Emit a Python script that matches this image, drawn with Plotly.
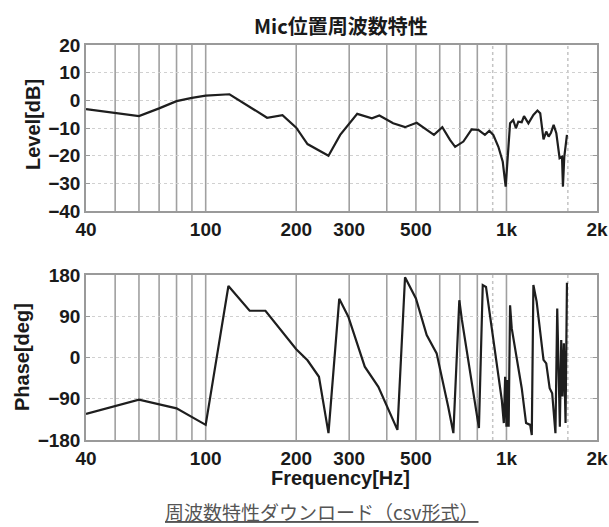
import plotly.graph_objects as go

# ---- data ----
level_freq = [40, 60, 70, 80, 90, 100, 120, 160, 180, 200, 218, 256, 280, 295, 319, 357, 378,
              420, 460, 503, 543, 574, 612, 649, 675, 719, 766, 806, 848, 877, 904, 940, 972,
              994, 1010, 1028, 1053, 1075, 1095, 1124, 1144, 1183, 1229, 1268, 1295, 1328,
              1356, 1381, 1406, 1435, 1465, 1502, 1530, 1541, 1557, 1589]
level_db = [-3.2, -5.7, -2.9, -0.3, 0.9, 1.7, 2.2, -6.3, -5.4, -9.9, -15.8, -20.0, -12.5, -9.5,
            -4.9, -6.5, -5.5, -8.3, -9.7, -8.1, -10.7, -12.5, -9.7, -14.3, -16.8, -14.9, -10.5,
            -10.7, -12.5, -11.0, -12.5, -16.8, -22.2, -31.2, -20.4, -8.3, -7.1, -10.1, -7.7,
            -7.9, -5.7, -8.3, -5.3, -3.7, -4.7, -14.1, -11.3, -13.1, -11.7, -8.9, -11.9, -20.9,
            -20.4, -31.2, -20.4, -12.5]

phase_freq = [40, 60, 80, 100, 119, 140, 158, 200, 218, 238, 256, 278, 298, 338, 375, 405,
              434, 460, 500, 543, 586, 640, 666, 697, 711, 810, 834, 855, 965, 980, 990, 1000,
              1005, 1017, 1028, 1041, 1124, 1162, 1199, 1214, 1229, 1260, 1328, 1356, 1392,
              1419, 1455, 1475, 1494, 1505, 1521, 1536, 1552, 1572, 1589]
phase_deg = [-123, -92, -111, -147, 156, 102, 102, 18, -6, -42, -165, 128, 89, -20, -64, -114,
             -158, 175, 129, 49, 9, -107, -165, 125, 82, -154, 158, 154, -93, -143, -42, -151,
             -49, -151, 114, 64, -67, -143, -147, -169, 158, 122, -5, -13, -67, -78, -165, 107,
             -27, -151, 38, -85, 31, -143, 163]

solid_grid_freqs = [50, 60, 70, 80, 90, 100, 200, 300, 400, 500, 600, 700, 800, 1000]
dotted_grid_freqs = [900, 1600]

x_tickvals = [40, 100, 200, 300, 500, 1000, 2000]
x_ticktext = ["40", "100", "200", "300", "500", "1k", "2k"]
level_ticks = [20, 10, 0, -10, -20, -30, -40]
phase_ticks = [180, 90, 0, -90, -180]

title_text = "Mic位置周波数特性"
level_label = "Level[dB]"
phase_label = "Phase[deg]"
freq_label = "Frequency[Hz]"
link_text = "周波数特性ダウンロード（csv形式）"

# ---- figure ----
W, H = 609, 527


def px(x):
    return x / W


def py(y):
    return 1 - y / H


fig = go.Figure()
fig.add_trace(go.Scatter(x=level_freq, y=level_db, mode="lines",
                         line=dict(color="#1e1e1e", width=2.2), xaxis="x", yaxis="y",
                         showlegend=False, hoverinfo="skip"))
fig.add_trace(go.Scatter(x=phase_freq, y=phase_deg, mode="lines",
                         line=dict(color="#1e1e1e", width=2.2), xaxis="x2", yaxis="y2",
                         showlegend=False, hoverinfo="skip"))

xdom = [px(86), px(597)]
top_dom = [py(211), py(45)]
bot_dom = [py(440), py(275)]

tickfont = dict(family="Liberation Sans, Arial, sans-serif", size=19, color="#1a1a1a", weight="bold")
xcommon = dict(type="log", range=[1.60206, 3.30103], domain=xdom, tickvals=x_tickvals,
               ticktext=x_ticktext, showgrid=False, zeroline=False, showline=True,
               linecolor="#9a9a9a", linewidth=1.5, mirror=True, ticks="", tickfont=tickfont,
               ticklabelstandoff=0, automargin=False)
ycommon = dict(showgrid=True, gridcolor="#d0d0d0", griddash="dot", gridwidth=1, zeroline=False,
               showline=True, linecolor="#9a9a9a", linewidth=1.5, mirror="ticks", ticks="inside",
               ticklen=4, tickcolor="#9a9a9a", tickfont=tickfont, automargin=False)

fig.update_layout(
    width=W, height=H, margin=dict(l=0, r=0, t=0, b=0, autoexpand=False),
    paper_bgcolor="white", plot_bgcolor="white",
    xaxis=dict(anchor="y", **xcommon),
    yaxis=dict(domain=top_dom, anchor="x", range=[-40, 20], tickvals=level_ticks, **ycommon),
    xaxis2=dict(anchor="y2", **xcommon),
    yaxis2=dict(domain=bot_dom, anchor="x2", range=[-180, 180], tickvals=phase_ticks, **ycommon),
)

shapes = []
for xa, ya in (("x", "y"), ("x2", "y2")):
    for f in solid_grid_freqs:
        shapes.append(dict(type="line", xref=xa, yref=ya + " domain", x0=f, x1=f, y0=0, y1=1,
                           line=dict(color="#a0a0a0", width=1.6), layer="below"))
    for f in dotted_grid_freqs:
        shapes.append(dict(type="line", xref=xa, yref=ya + " domain", x0=f, x1=f, y0=0, y1=1,
                           line=dict(color="#c4c4c4", width=1.5, dash="dot"), layer="below"))
fig.update_layout(shapes=shapes)

lab_font = dict(family="Liberation Sans, Arial, sans-serif", size=20, color="#1a1a1a", weight="bold")
common = dict(xref="paper", yref="paper", showarrow=False, xanchor="center", yanchor="middle")
anns = [
    dict(text=title_text, x=px(341), y=py(25),
         font=dict(family="Noto Sans CJK JP", size=20, color="#1a1a1a", weight="bold"), **common),
    dict(text=level_label, x=px(33), y=py(125), textangle=-90, font=lab_font, **common),
    dict(text=phase_label, x=px(22), y=py(357), textangle=-90, font=lab_font, **common),
    dict(text=freq_label, x=px(340), y=py(478), font=lab_font, **common),
    dict(text="<u>" + link_text + "</u>", x=px(321), y=py(511),
         font=dict(family="Noto Sans CJK JP", size=19, color="#555555"), **common),
]
fig.update_layout(annotations=anns)

fig.write_html("out.html", config={"displayModeBar": False},
               post_script="document.body.style.margin='0';document.body.style.overflow='hidden';")
